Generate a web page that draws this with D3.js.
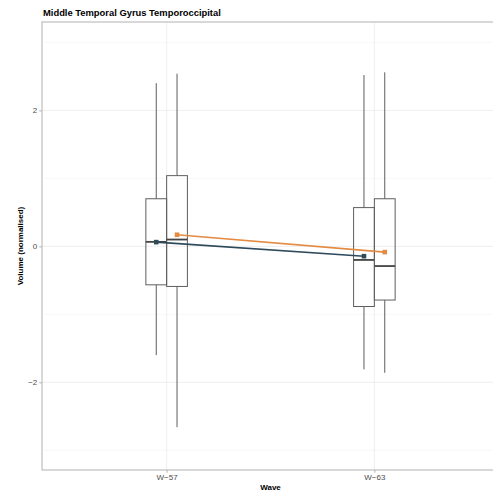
<!DOCTYPE html>
<html>
<head>
<meta charset="utf-8">
<script src="https://cdn.jsdelivr.net/npm/d3@7"></script>
<style>
  html, body { margin: 0; padding: 0; background: #fff; }
  svg { display: block; font-family: "Liberation Sans", Arial, sans-serif; }
</style>
</head>
<body>
<svg id="chart" width="493" height="498"></svg>
<script>
// ---- data ----
const waves = ["W\u221257", "W\u221263"];
const groups = ["dark", "orange"];
const groupColors = ["#2e4a5b", "#e38b42"];
// box statistics per group, one value per wave
const darkLow  = [-1.60, -1.81];
const darkQ1   = [-0.566, -0.885];
const darkMed  = [0.066, -0.20];
const darkQ3   = [0.70, 0.57];
const darkHigh = [2.40, 2.52];
const darkMean = [0.062, -0.145];
const orangeLow  = [-2.66, -1.86];
const orangeQ1   = [-0.59, -0.79];
const orangeMed  = [0.10, -0.29];
const orangeQ3   = [1.04, 0.70];
const orangeHigh = [2.54, 2.56];
const orangeMean = [0.17, -0.085];
const yTicksMajor = [-2, 0, 2];
const yTicksMinor = [-3, -1, 1, 3];

const stats = [
  { low: darkLow, q1: darkQ1, med: darkMed, q3: darkQ3, high: darkHigh, mean: darkMean },
  { low: orangeLow, q1: orangeQ1, med: orangeMed, q3: orangeQ3, high: orangeHigh, mean: orangeMean }
];

// ---- layout ----
const svg = d3.select("#chart");
const pLeft = 42, pRight = 499, pTop = 22, pBottom = 470;

const x = d3.scaleLinear().domain([0.4, waves.length + 0.6]).range([pLeft, pRight]);
const y = d3.scaleLinear().domain([-3.29, 3.30]).range([pBottom, pTop]);
const boxW = 0.1;      // box width in x units

// gridlines
const g = svg.append("g");
g.selectAll(".minor").data(yTicksMinor).enter().append("line")
  .attr("x1", pLeft).attr("x2", pRight)
  .attr("y1", d => y(d)).attr("y2", d => y(d))
  .attr("stroke", "#f3f3f3").attr("stroke-width", 0.6);
g.selectAll(".major").data(yTicksMajor).enter().append("line")
  .attr("x1", pLeft).attr("x2", pRight)
  .attr("y1", d => y(d)).attr("y2", d => y(d))
  .attr("stroke", "#e8e8e8").attr("stroke-width", 0.7);
g.selectAll(".vmajor").data(waves).enter().append("line")
  .attr("x1", (d, i) => x(i + 1)).attr("x2", (d, i) => x(i + 1))
  .attr("y1", pTop).attr("y2", pBottom)
  .attr("stroke", "#e8e8e8").attr("stroke-width", 0.7);

// boxplots
const boxColor = "#5e5e5e";
groups.forEach((grp, gi) => {
  const s = stats[gi];
  waves.forEach((w, wi) => {
    const cx = wi + 1 + (gi === 0 ? -boxW / 2 : boxW / 2);
    const bg = svg.append("g");
    bg.append("line").attr("x1", x(cx)).attr("x2", x(cx))
      .attr("y1", y(s.high[wi])).attr("y2", y(s.q3[wi]))
      .attr("stroke", boxColor).attr("stroke-width", 1);
    bg.append("line").attr("x1", x(cx)).attr("x2", x(cx))
      .attr("y1", y(s.q1[wi])).attr("y2", y(s.low[wi]))
      .attr("stroke", boxColor).attr("stroke-width", 1);
    bg.append("rect")
      .attr("x", x(cx - boxW / 2)).attr("width", x(cx + boxW / 2) - x(cx - boxW / 2))
      .attr("y", y(s.q3[wi])).attr("height", y(s.q1[wi]) - y(s.q3[wi]))
      .attr("fill", "none").attr("stroke", boxColor).attr("stroke-width", 1);
    bg.append("line")
      .attr("x1", x(cx - boxW / 2)).attr("x2", x(cx + boxW / 2))
      .attr("y1", y(s.med[wi])).attr("y2", y(s.med[wi]))
      .attr("stroke", "#444").attr("stroke-width", 1.8);
  });
});

// mean lines and points
groups.forEach((grp, gi) => {
  const s = stats[gi];
  const pts = waves.map((w, wi) => [wi + 1 + (gi === 0 ? -boxW / 2 : boxW / 2), s.mean[wi]]);
  svg.append("path")
    .attr("d", d3.line().x(d => x(d[0])).y(d => y(d[1]))(pts))
    .attr("fill", "none").attr("stroke", groupColors[gi]).attr("stroke-width", 1.6);
  svg.selectAll(".pt" + gi).data(pts).enter().append("rect")
    .attr("x", d => x(d[0]) - 2.3).attr("y", d => y(d[1]) - 2.3)
    .attr("width", 4.6).attr("height", 4.6)
    .attr("fill", groupColors[gi]);
});

// panel border
svg.append("rect").attr("x", pLeft).attr("y", pTop)
  .attr("width", pRight - pLeft).attr("height", pBottom - pTop)
  .attr("fill", "none").attr("stroke", "#b8b8b8").attr("stroke-width", 1.1);

// axes
const yAxis = d3.axisLeft(y).tickValues(yTicksMajor).tickSize(2.75).tickPadding(2)
  .tickFormat(d => d < 0 ? "\u2212" + Math.abs(d) : d);
const ya = svg.append("g").attr("transform", `translate(${pLeft},0)`).call(yAxis);
ya.select(".domain").remove();
ya.selectAll(".tick line").attr("stroke", "#b3b3b3");
ya.selectAll(".tick text").attr("fill", "#4d4d4d").attr("font-size", 8).attr("font-family", "Liberation Sans, Arial, sans-serif");

const xAxis = d3.axisBottom(x).tickValues(waves.map((w, i) => i + 1)).tickSize(2.75).tickPadding(2)
  .tickFormat((d, i) => waves[i]);
const xa = svg.append("g").attr("transform", `translate(0,${pBottom})`).call(xAxis);
xa.select(".domain").remove();
xa.selectAll(".tick line").attr("stroke", "#b3b3b3");
xa.selectAll(".tick text").attr("fill", "#4d4d4d").attr("font-size", 8).attr("font-family", "Liberation Sans, Arial, sans-serif");

// titles
svg.append("text").attr("x", 43).attr("y", 16)
  .attr("font-size", 9.4).attr("font-weight", "bold").attr("fill", "#000")
  .text("Middle Temporal Gyrus Temporoccipital");
svg.append("text").attr("x", (pLeft + pRight) / 2).attr("y", 490)
  .attr("text-anchor", "middle").attr("font-size", 8).attr("font-weight", "bold")
  .text("Wave");
svg.append("text").attr("transform", `translate(23,${(pTop + pBottom) / 2}) rotate(-90)`)
  .attr("text-anchor", "middle").attr("font-size", 8).attr("font-weight", "bold")
  .text("Volume (normalised)");
</script>
</body>
</html>
